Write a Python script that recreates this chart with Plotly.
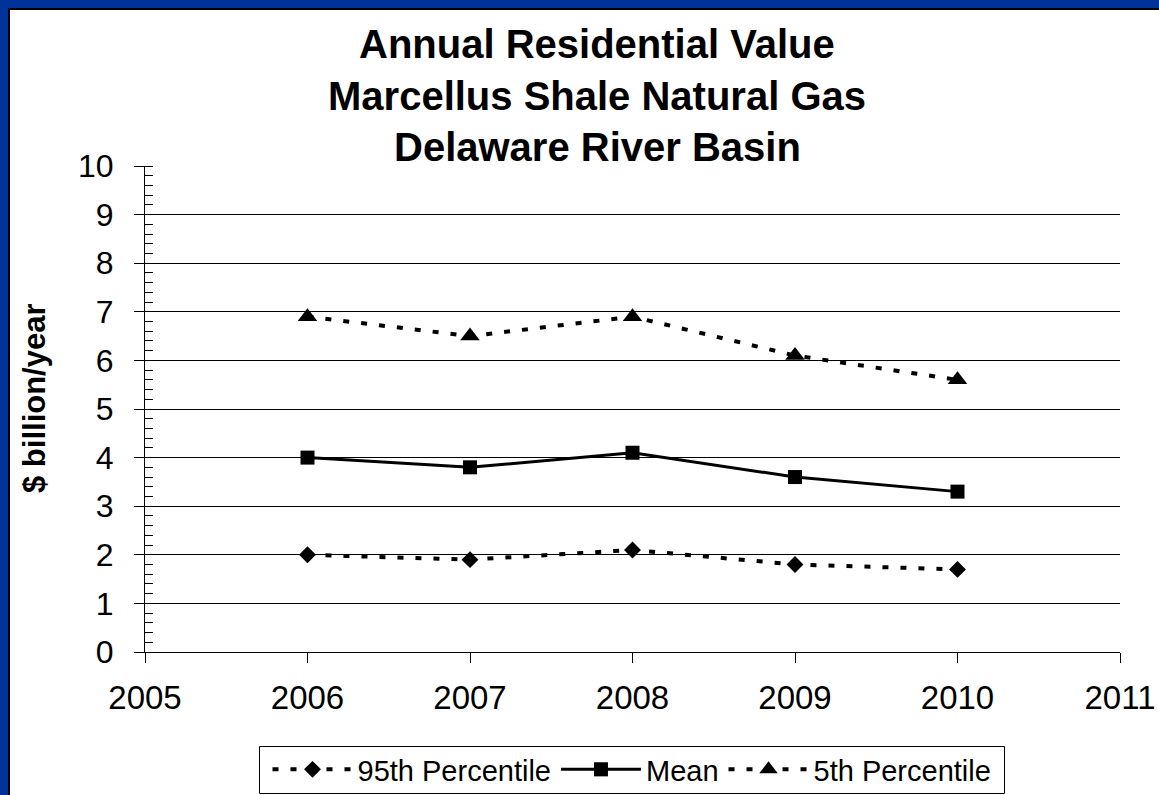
import plotly.graph_objects as go

years = [2006, 2007, 2008, 2009, 2010]
p95 = [2.0, 1.9, 2.1, 1.8, 1.7]
mean = [4.0, 3.8, 4.1, 3.6, 3.3]
p5 = [6.9, 6.5, 6.9, 6.1, 5.6]
series_names = ["95th Percentile", "Mean", "5th Percentile"]
title_lines = ["Annual Residential Value", "Marcellus Shale Natural Gas", "Delaware River Basin"]
y_title = "$ billion/year"

W, H = 1159, 795
L, R, T, B = 145, 1120, 166, 652
FONT = "Liberation Sans, Arial, sans-serif"


def px(x):
    return (x - L) / (R - L)


def py(y):
    return (B - y) / (B - T)


fig = go.Figure()
fig.add_trace(go.Scatter(
    x=years, y=p95, name=series_names[0], mode="lines+markers",
    line=dict(color="black", width=4, dash="6px,12px"),
    marker=dict(symbol="diamond", size=13, color="black")))
fig.add_trace(go.Scatter(
    x=years, y=mean, name=series_names[1], mode="lines+markers",
    line=dict(color="black", width=3),
    marker=dict(symbol="square", size=14, color="black")))
fig.add_trace(go.Scatter(
    x=years, y=p5, name=series_names[2], mode="lines+markers",
    line=dict(color="black", width=4, dash="6px,12px"),
    marker=dict(symbol="triangle-up", size=17, color="black")))

shapes = [
    dict(type="rect", xref="paper", yref="paper", x0=px(0), x1=px(8), y0=py(0), y1=py(H),
         fillcolor="#003399", line=dict(width=0), layer="below"),
    dict(type="rect", xref="paper", yref="paper", x0=px(0), x1=px(W), y0=py(0), y1=py(8),
         fillcolor="#003399", line=dict(width=0), layer="below"),
    dict(type="rect", xref="paper", yref="paper", x0=px(8), x1=px(10), y0=py(8), y1=py(H),
         fillcolor="black", line=dict(width=0), layer="below"),
    dict(type="rect", xref="paper", yref="paper", x0=px(8), x1=px(W), y0=py(8), y1=py(10),
         fillcolor="black", line=dict(width=0), layer="below"),
    # legend frame
    dict(type="rect", xref="paper", yref="paper", x0=px(259.5), x1=px(1004.5), y0=py(746.5), y1=py(793.5),
         fillcolor="rgba(0,0,0,0)", line=dict(color="black", width=1), layer="above"),
]

annotations = []
for txt, yc in zip(title_lines, [44, 96, 147]):
    annotations.append(dict(
        text="<b>%s</b>" % txt, x=px(597), y=py(yc), xref="paper", yref="paper",
        xanchor="center", yanchor="middle", showarrow=False,
        font=dict(family=FONT, size=40, color="black")))
annotations.append(dict(
    text="<b>%s</b>" % y_title, x=px(34), y=py(398), xref="paper", yref="paper",
    xanchor="center", yanchor="middle", showarrow=False, textangle=-90,
    font=dict(family=FONT, size=31, color="black")))

fig.update_layout(
    width=W, height=H, autosize=False,
    margin=dict(l=L, r=W - R, t=T, b=H - B, pad=0, autoexpand=False),
    paper_bgcolor="white", plot_bgcolor="rgba(0,0,0,0)",
    font=dict(family=FONT, color="black"),
    showlegend=True,
    legend=dict(orientation="h", x=px(632), y=py(744), xanchor="center", yanchor="top",
                borderwidth=0, bgcolor="rgba(0,0,0,0)",
                font=dict(family=FONT, size=29, color="black"),
                itemwidth=80, tracegroupgap=0),
    shapes=shapes,
    annotations=annotations,
)
fig.update_xaxes(range=[2005, 2011], dtick=1, tick0=2005, showgrid=False, zeroline=False,
                 automargin=False,
                 showline=True, linecolor="black", linewidth=1,
                 ticks="outside", ticklen=10, tickcolor="black", tickwidth=1,
                 tickfont=dict(family=FONT, size=33, color="black"), ticklabelstandoff=6)
fig.update_yaxes(range=[0, 10], dtick=1, tick0=0, showgrid=True, gridcolor="black", gridwidth=1,
                 zeroline=False, automargin=False, showline=True, linecolor="black", linewidth=1,
                 ticks="outside", ticklen=10, tickcolor="black", tickwidth=1,
                 minor=dict(dtick=0.2, ticks="inside", ticklen=8, tickcolor="black", tickwidth=1, showgrid=False),
                 tickfont=dict(family=FONT, size=32, color="black"), ticklabelstandoff=14)

fig.write_html("out.html", config={"displayModeBar": False},
               post_script="document.body.style.margin='0';")
